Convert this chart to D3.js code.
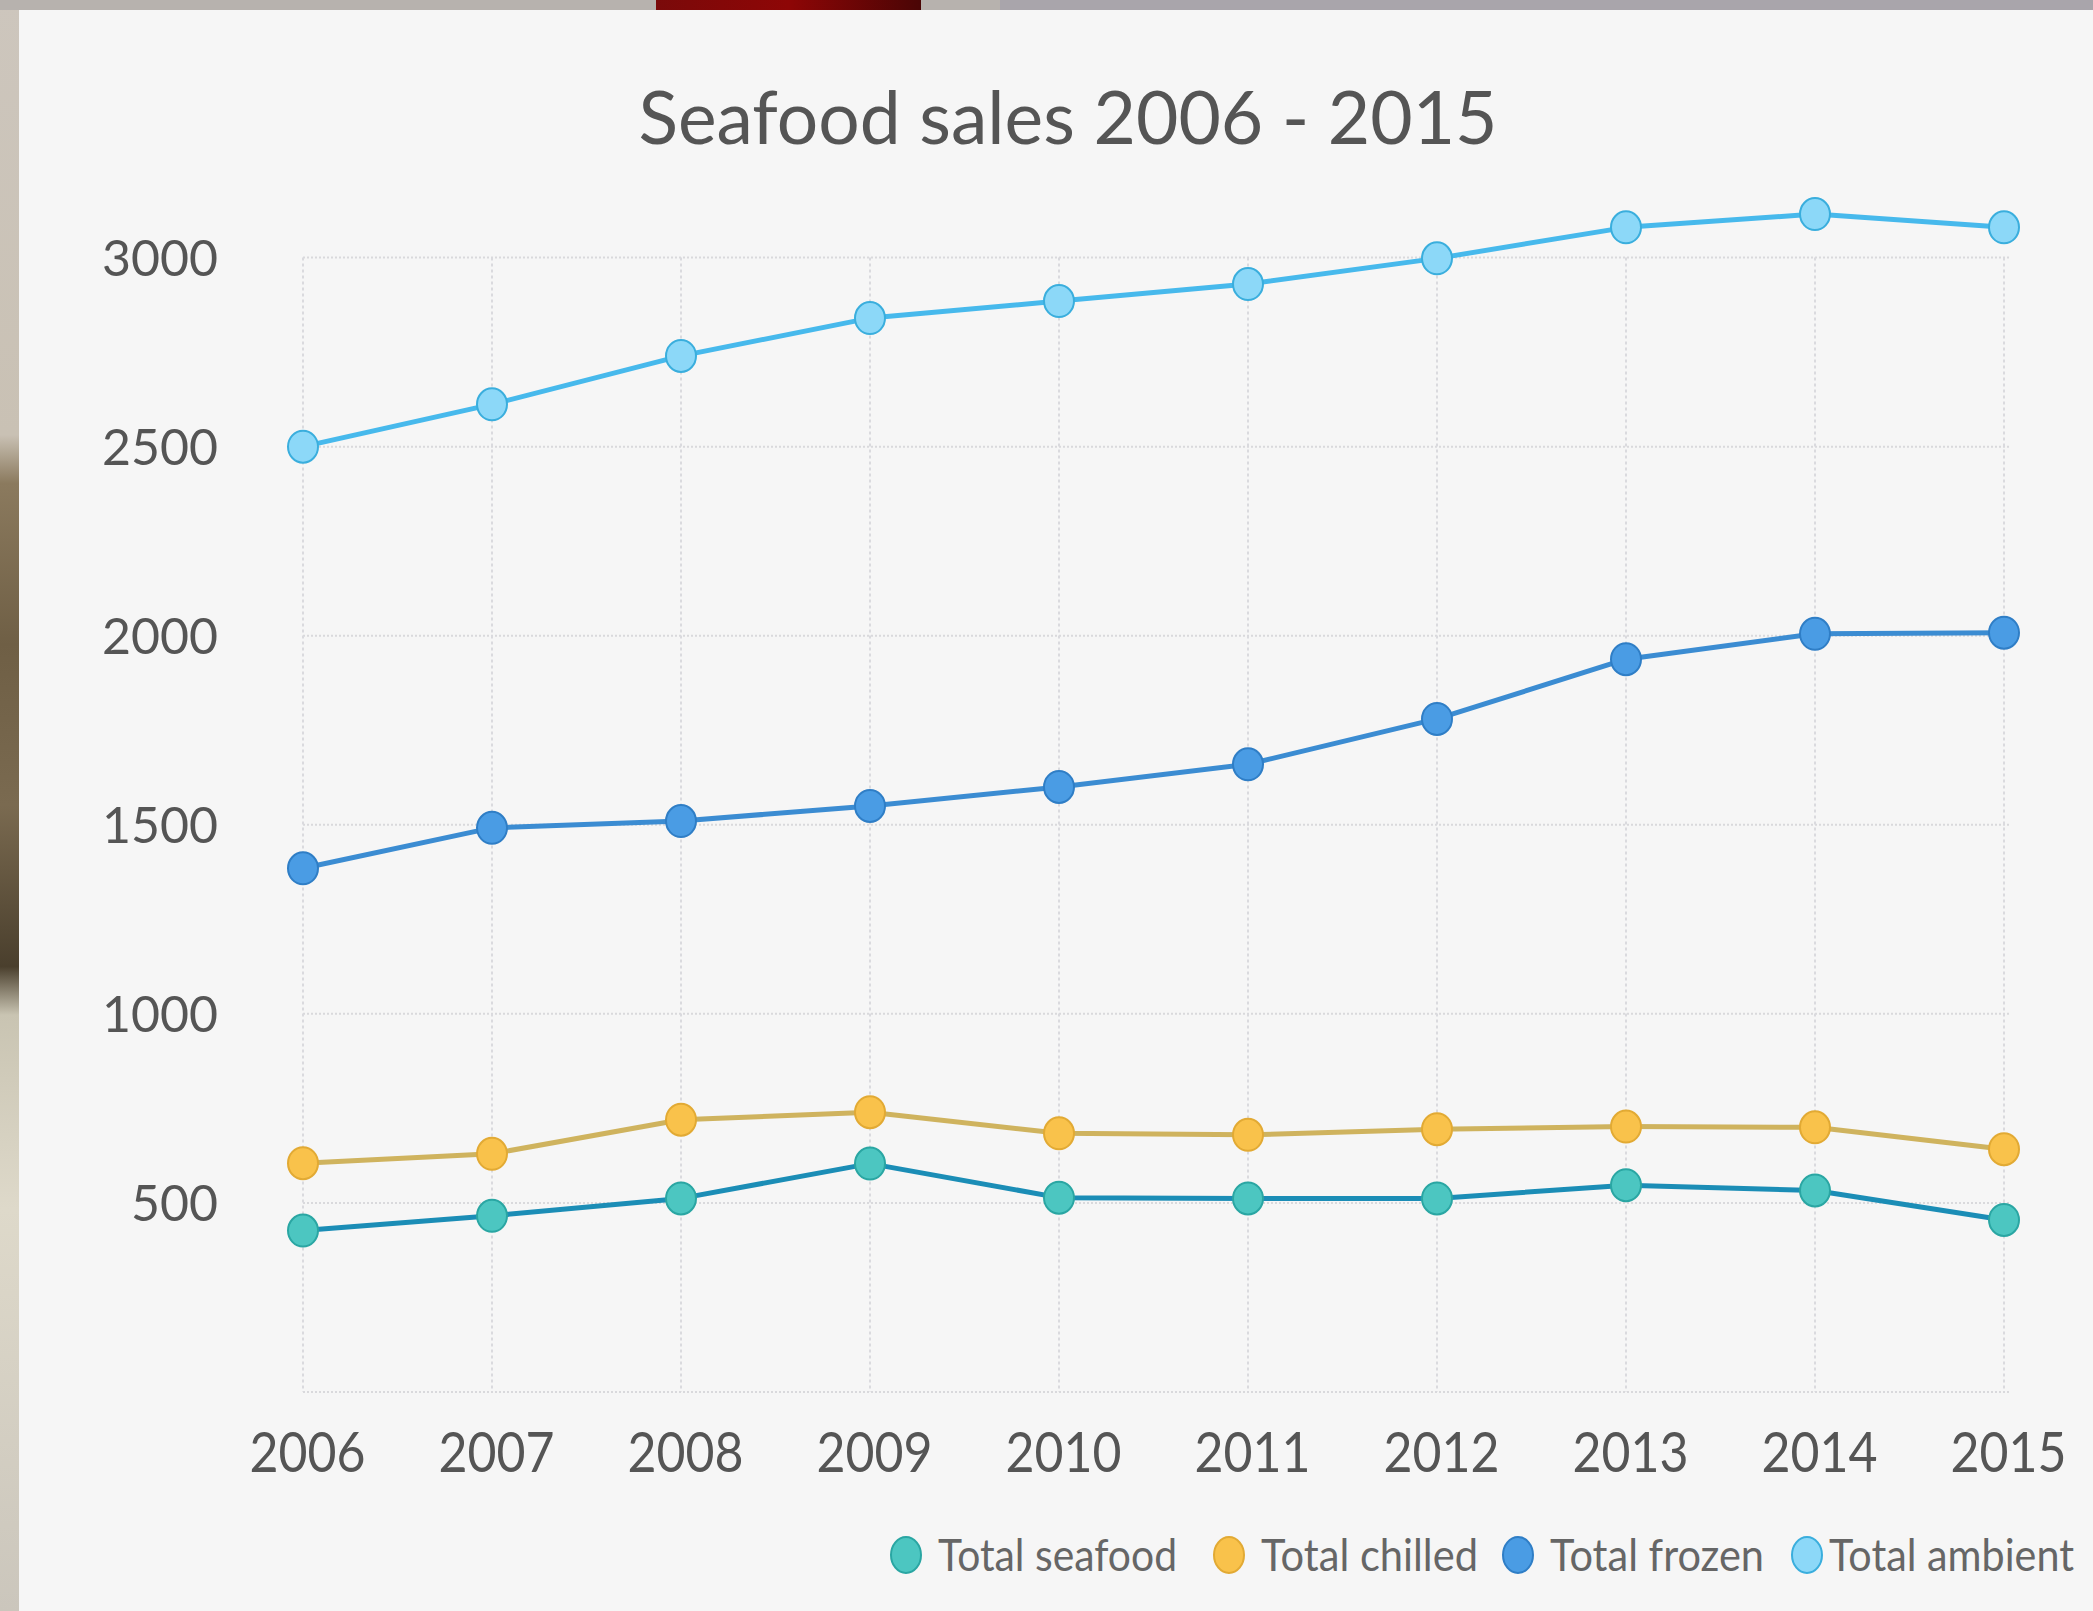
<!DOCTYPE html>
<html>
<head>
<meta charset="utf-8">
<script src="https://cdn.jsdelivr.net/npm/d3@7"></script>
<style>
  html, body { margin: 0; padding: 0; background: #f6f6f6; }
  svg { display: block; }
</style>
</head>
<body>
<svg id="chart" width="2093" height="1611"></svg>
<script>
const title = "Seafood sales 2006 - 2015";
const years = ["2006","2007","2008","2009","2010","2011","2012","2013","2014","2015"];
const yTicks = [500, 1000, 1500, 2000, 2500, 3000];
const seriesNames = ["Total seafood", "Total chilled", "Total frozen", "Total ambient"];
const totalSeafood = [427, 466, 512, 604, 514, 512, 512, 547, 533, 455];
const totalChilled = [605, 630, 720, 740, 684, 680, 695, 702, 700, 642];
const totalFrozen  = [1385, 1492, 1510, 1550, 1600, 1660, 1780, 1938, 2005, 2008];
const totalAmbient = [2500, 2612, 2740, 2840, 2885, 2930, 2998, 3080, 3115, 3080];

const lineColors  = ["#1b8db6", "#cfb35e", "#3b8cd2", "#47b9ec"];
const fillColors  = ["#4cc6c1", "#f9c24b", "#4a9ce4", "#8cd8f8"];
const strokeColors= ["#2aa6a3", "#e2aa34", "#2f7ec6", "#3aaedd"];

const seriesValues = [totalSeafood, totalChilled, totalFrozen, totalAmbient];

const svg = d3.select("#chart");
const W = 2093, H = 1611;

// backdrop (photo edges around the panel)
const defs = svg.append("defs");
const lg = defs.append("linearGradient").attr("id","leftStrip").attr("x1",0).attr("y1",0).attr("x2",0).attr("y2",1);
[[0,"#cdc6bd"],[0.27,"#c9c1b4"],[0.3,"#8b7a5e"],[0.4,"#6f5f45"],[0.5,"#7a6a50"],[0.6,"#4a3f2d"],[0.63,"#c9c4b2"],[0.75,"#ded9ca"],[1,"#cbc6bc"]]
  .forEach(([o,c]) => lg.append("stop").attr("offset",o).attr("stop-color",c));
const tg = defs.append("linearGradient").attr("id","redBlock").attr("x1",0).attr("y1",0).attr("x2",1).attr("y2",0);
[[0,"#7a0a0a"],[0.5,"#8e0606"],[1,"#4a0505"]].forEach(([o,c]) => tg.append("stop").attr("offset",o).attr("stop-color",c));

svg.append("rect").attr("x",0).attr("y",0).attr("width",W).attr("height",H).attr("fill","url(#leftStrip)");
svg.append("rect").attr("x",0).attr("y",0).attr("width",W).attr("height",10).attr("fill","#b7b2ae");
svg.append("rect").attr("x",1000).attr("y",0).attr("width",W-1000).attr("height",10).attr("fill","#a9a5ab");
svg.append("rect").attr("x",656).attr("y",0).attr("width",265).attr("height",10).attr("fill","url(#redBlock)");
svg.append("rect").attr("x",19).attr("y",10).attr("width",W-19).attr("height",H-10).attr("fill","#f6f6f6");

// scales
const x = d3.scalePoint().domain(years).range([303, 2004]);
const y = d3.scaleLinear().domain([0, 3000]).range([1392, 257.6]);

// grid
const grid = svg.append("g").attr("class","grid");
grid.selectAll("line.h").data([0].concat(yTicks)).join("line")
  .attr("x1", x.range()[0]).attr("x2", x.range()[1] + 6)
  .attr("y1", d => y(d)).attr("y2", d => y(d))
  .attr("stroke", "#d9d9dc").attr("stroke-width", 2).attr("stroke-dasharray", "2,2");
grid.selectAll("line.v").data(years).join("line")
  .attr("x1", d => x(d)).attr("x2", d => x(d))
  .attr("y1", y(3000)).attr("y2", y(0))
  .attr("stroke", "#dadade").attr("stroke-width", 2).attr("stroke-dasharray", "3,3");

// axes (labels only)
const yAxis = svg.append("g").attr("transform", "translate(218,0)")
  .call(d3.axisLeft(y).tickValues(yTicks).tickFormat(d3.format("d")).tickSize(0).tickPadding(0));
yAxis.select(".domain").remove();
yAxis.selectAll("text").attr("font-family","Lato").attr("font-size",50).attr("fill","#555")
  .attr("dy","0.36em").attr("x",0);

const xAxis = svg.append("g").attr("transform", "translate(0,1472)")
  .call(d3.axisBottom(x).tickSize(0).tickPadding(0));
xAxis.select(".domain").remove();
xAxis.selectAll("text").attr("font-family","Lato").attr("font-size",56).attr("fill","#555")
  .attr("dy",0).attr("y",0).attr("dx", 4)
  .attr("textLength",116).attr("lengthAdjust","spacingAndGlyphs");

// title
svg.append("text").attr("x",1068).attr("y",144).attr("text-anchor","middle")
  .attr("font-family","Lato").attr("font-size",74).attr("fill","#555")
  .attr("textLength",859).attr("lengthAdjust","spacingAndGlyphs")
  .text(title);

// lines
const line = d3.line().x((d,i) => x(years[i])).y(d => y(d));
const plot = svg.append("g");
seriesValues.forEach((vals, si) => {
  plot.append("path").datum(vals).attr("d", line)
    .attr("fill","none").attr("stroke", lineColors[si]).attr("stroke-width", 5)
    .attr("stroke-linejoin","round");
});
seriesValues.forEach((vals, si) => {
  plot.selectAll(null).data(vals).join("ellipse")
    .attr("cx", (d,i) => x(years[i])).attr("cy", d => y(d))
    .attr("rx", 15).attr("ry", 16)
    .attr("fill", fillColors[si]).attr("stroke", strokeColors[si]).attr("stroke-width", 2);
});

// legend
const legendX = [906, 1229, 1518, 1807];
const legendW = [239, 217, 214, 245];
const legend = svg.append("g");
seriesNames.forEach((name, i) => {
  legend.append("ellipse").attr("cx", legendX[i]).attr("cy", 1555).attr("rx", 15).attr("ry", 18)
    .attr("fill", fillColors[i]).attr("stroke", strokeColors[i]).attr("stroke-width", 2);
  legend.append("text").attr("x", legendX[i] + (i === 3 ? 22 : 32)).attr("y", 1571)
    .attr("font-family","Lato").attr("font-size",44).attr("fill","#666")
    .attr("textLength", legendW[i]).attr("lengthAdjust","spacingAndGlyphs")
    .text(name);
});
</script>
</body>
</html>
